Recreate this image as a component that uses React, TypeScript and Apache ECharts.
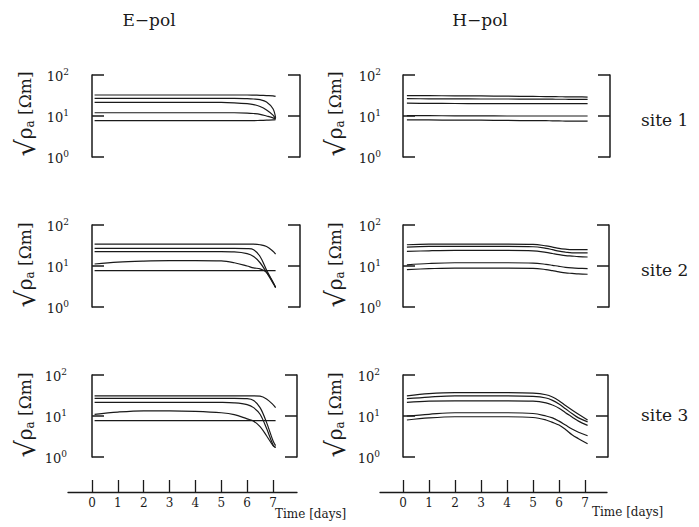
import React, { useEffect, useRef } from "react";
import * as echarts from "echarts";

// Time samples (days)
const E_DAYS = [0.1, 1, 2, 3, 4, 5, 5.5, 6, 6.25, 6.5, 6.75, 7, 7.1];
const H_DAYS = [0.15, 1, 2, 3, 4, 5, 5.5, 5.75, 6, 6.25, 6.5, 6.75, 7.1];
const TIME_TICKS = [0, 1, 2, 3, 4, 5, 6, 7];
const DECADES = [1, 10, 100];
const SITES = ["site 1", "site 2", "site 3"];
const TITLES = ["E\u2212pol", "H\u2212pol"];
const Y_NAME = "{v|\u221A}{r|\u03C1}{a|a}{u| [\u03A9m]}";
const X_NAME = "Time [days]";

// E-pol apparent resistivity curves (5 per site)
const E_SITE1 = [
  [32.5, 32.5, 32.5, 32.5, 32.5, 32.5, 32.5, 32.5, 32.3, 32, 31.5, 31, 30],
  [27, 27, 27, 27, 27, 27, 27, 26.5, 26, 25, 22, 15, 9],
  [21.6, 21.6, 21.6, 21.6, 21.6, 21.5, 21, 20, 19, 17, 14, 10.5, 8.5],
  [12, 12, 12, 12, 12, 12, 12, 11.8, 11.5, 11, 10, 9, 8.4],
  [7.7, 7.7, 7.7, 7.7, 7.7, 7.7, 7.7, 7.7, 7.7, 7.8, 7.9, 8, 8.1],
];
const E_SITE2 = [
  [34, 34, 34, 34, 34, 34, 34, 34, 34, 33, 30, 23, 19.6],
  [27, 27, 27, 27, 27, 27, 27, 26.5, 25, 17, 8, 4, 3],
  [22.3, 22.3, 22.3, 22.3, 22.3, 22.3, 22, 20, 17, 12, 7, 3.8, 3],
  [11.2, 12.5, 13.2, 13.5, 13.5, 13.3, 12, 10, 9, 8.5, 7, 4, 3],
  [7.7, 7.7, 7.7, 7.7, 7.7, 7.7, 7.7, 7.7, 7.7, 7.7, 7.7, 7.7, 7.7],
];
const E_SITE3 = [
  [31, 31, 31, 31, 31, 31, 31, 31, 31, 30.5, 26, 19, 16],
  [27, 27, 27, 27, 27, 27, 27, 26.5, 24, 16, 7, 2.5, 1.9],
  [21.6, 21.6, 21.6, 21.6, 21.6, 21.5, 21, 19, 16, 11, 5, 2, 1.7],
  [11, 12.5, 13.4, 13.4, 13, 12, 10.8, 8.5, 7.5, 5.5, 3.3, 1.9, 1.7],
  [7.7, 7.7, 7.7, 7.7, 7.7, 7.7, 7.7, 7.7, 7.7, 7.7, 7.7, 7.7, 7.7],
];

// H-pol apparent resistivity curves (5 per site)
const H_SITE1 = [
  [31.5, 31.3, 31, 30.8, 30.5, 30, 29.8, 29.7, 29.5, 29.4, 29.3, 29.2, 29],
  [26.5, 26.3, 26.2, 26, 26, 25.8, 25.7, 25.7, 25.6, 25.6, 25.5, 25.5, 25.5],
  [20.5, 20.3, 20.2, 20, 20, 20, 20, 20, 20, 20, 20, 20, 20],
  [10.2, 10.2, 10.1, 10.1, 10, 10, 10, 10, 10, 10, 10, 10, 10],
  [8, 8, 7.9, 7.9, 7.8, 7.7, 7.7, 7.6, 7.6, 7.5, 7.5, 7.5, 7.5],
];
const H_SITE2 = [
  [33, 34, 34, 34, 34, 33.5, 31, 29, 27, 25.8, 25, 25, 25],
  [29, 30, 30, 30, 30, 29.5, 27, 25, 23, 21.8, 21, 21, 21],
  [22.7, 23.5, 24, 24, 24, 23.5, 21.5, 20.2, 19, 18, 17.5, 17, 16.6],
  [10.7, 11.5, 12, 12, 12, 11.8, 11, 10.4, 9.8, 9.3, 9, 8.8, 8.6],
  [8.2, 8.6, 8.9, 8.9, 8.9, 8.8, 8.2, 7.7, 7.2, 6.8, 6.6, 6.4, 6.3],
];
const H_SITE3 = [
  [31, 35, 37, 37, 37, 36, 33, 29, 23.5, 18, 14, 11, 8],
  [26.5, 29, 31, 31, 31, 30, 27.5, 24, 19.5, 15, 11.5, 9, 7.2],
  [21.5, 23, 23.5, 23.5, 23.5, 23, 21, 18.5, 15.5, 12, 9.5, 7.5, 5.9],
  [10, 11, 12, 12, 12, 11.5, 10, 9, 7.5, 6, 4.8, 4, 3.3],
  [8, 9, 9.6, 9.6, 9.6, 9.2, 8, 7, 6, 4.7, 3.5, 2.8, 2.1],
];

const E_DATA = [E_SITE1, E_SITE2, E_SITE3];
const H_DATA = [H_SITE1, H_SITE2, H_SITE3];

const SERIF = "DejaVu Serif";
const INK = "#1a1a1a";

export default function App() {
  const ref = useRef<HTMLDivElement>(null);

  useEffect(() => {
    if (!ref.current) return;
    const chart = echarts.init(ref.current, null, { renderer: "svg" });

    const rowTops = [75, 225, 375];
    const panelH = 82;
    const eBounds = [
      [71, 300],
      [71, 300],
      [69, 297],
    ];
    const hBounds = [
      [383, 610],
      [383, 609],
      [382, 608],
    ];
    const eMap = { x0: 92, ppd: (273 - 92) / 7 };
    const hMap = { x0: 403, ppd: (585 - 403) / 7 };

    const grids: any[] = [];
    const xAxes: any[] = [];
    const yAxes: any[] = [];
    const series: any[] = [];
    const graphics: any[] = [];

    const labelFmt = (v: number) => `{b|10}{s|${Math.round(Math.log10(v))}}`;
    const labelRich = {
      b: { fontSize: 13, fontFamily: SERIF, color: INK, lineHeight: 16, verticalAlign: "bottom" },
      s: { fontSize: 9, fontFamily: SERIF, color: INK, lineHeight: 16, verticalAlign: "top", padding: [0, 0, 6, 0] },
    };

    const addPanel = (
      row: number,
      bounds: number[],
      map: { x0: number; ppd: number },
      days: number[],
      data: number[][]
    ) => {
      const gi = grids.length;
      const [l, r] = bounds;
      grids.push({ left: l, top: rowTops[row], width: r - l, height: panelH });
      xAxes.push({
        type: "value",
        gridIndex: gi,
        min: (l - map.x0) / map.ppd,
        max: (r - map.x0) / map.ppd,
        show: false,
      });
      const yi = yAxes.length;
      yAxes.push({
        type: "log",
        gridIndex: gi,
        position: "left",
        min: 1,
        max: 100,
        logBase: 10,
        axisLine: { show: true, lineStyle: { color: INK, width: 1.5 } },
        axisTick: { show: true, inside: true, length: 12, customValues: DECADES, lineStyle: { color: INK, width: 1.5 } },
        axisLabel: { show: true, customValues: DECADES, margin: 2, formatter: labelFmt, rich: labelRich },
        splitLine: { show: false },
        minorTick: { show: false },
      });
      yAxes.push({
        type: "log",
        gridIndex: gi,
        position: "right",
        min: 1,
        max: 100,
        logBase: 10,
        axisLine: { show: true, lineStyle: { color: INK, width: 1.5 } },
        axisTick: { show: true, inside: true, length: 12, customValues: DECADES, lineStyle: { color: INK, width: 1.5 } },
        axisLabel: { show: false },
        splitLine: { show: false },
      });
      data.forEach((vals, k) => {
        series.push({
          type: "line",
          xAxisIndex: gi,
          yAxisIndex: yi,
          data: days.map((d, i) => [d, vals[i]]),
          showSymbol: false,
          smooth: 0.35,
          lineStyle: { color: INK, width: 1.2 },
          silent: true,
          z: 2,
          name: `p${gi}s${k}`,
        });
      });
    };

    for (let row = 0; row < 3; row++) {
      addPanel(row, eBounds[row], eMap, E_DAYS, E_DATA[row]);
      addPanel(row, hBounds[row], hMap, H_DAYS, H_DATA[row]);
    }

    const addTimeAxis = (l: number, r: number, map: { x0: number; ppd: number }) => {
      const gi = grids.length;
      grids.push({ left: l, top: 470, width: r - l, height: 22 });
      xAxes.push({
        type: "value",
        gridIndex: gi,
        min: (l - map.x0) / map.ppd,
        max: (r - map.x0) / map.ppd,
        position: "bottom",
        axisLine: { show: true, onZero: false, lineStyle: { color: INK, width: 1.3 } },
        axisTick: { show: true, inside: true, length: 12, customValues: TIME_TICKS, lineStyle: { color: INK, width: 1.3 } },
        axisLabel: {
          show: true,
          customValues: TIME_TICKS,
          margin: 5,
          fontSize: 12,
          fontFamily: SERIF,
          color: INK,
        },
        splitLine: { show: false },
      });
      yAxes.push({ type: "value", gridIndex: gi, show: false, min: 0, max: 1 });
    };
    addTimeAxis(68, 297, eMap);
    addTimeAxis(380, 607, hMap);

    graphics.push(
      { type: "text", x: 149, y: 20, style: { text: TITLES[0], font: `17px "${SERIF}"`, fill: INK, textAlign: "center", textVerticalAlign: "middle" } },
      { type: "text", x: 480, y: 20, style: { text: TITLES[1], font: `17px "${SERIF}"`, fill: INK, textAlign: "center", textVerticalAlign: "middle" } }
    );
    const nameRich = {
      v: { fontSize: 27, fontFamily: SERIF, fill: INK, lineHeight: 28, verticalAlign: "middle" },
      r: { fontSize: 20, fontFamily: SERIF, fill: INK, lineHeight: 28, verticalAlign: "middle" },
      a: { fontSize: 12, fontFamily: SERIF, fill: INK, lineHeight: 28, verticalAlign: "bottom", padding: [0, 0, 3, 0] },
      u: { fontSize: 17, fontFamily: SERIF, fill: INK, lineHeight: 28, verticalAlign: "middle" },
    };
    const nameYs = [114, 265, 415];
    const siteYs = [120, 270, 415];
    for (let row = 0; row < 3; row++) {
      [25, 335].forEach((x) => {
        graphics.push({
          type: "text",
          x,
          y: nameYs[row],
          rotation: Math.PI / 2,
          style: { text: Y_NAME, rich: nameRich, fill: INK, align: "center", verticalAlign: "middle" },
        });
      });
      graphics.push({
        type: "text",
        x: 641,
        y: siteYs[row],
        style: { text: SITES[row], font: `17px "${SERIF}"`, fill: INK, textAlign: "left", textVerticalAlign: "middle" },
      });
    }
    graphics.push(
      { type: "text", x: 275, y: 514, style: { text: X_NAME, font: `12px "${SERIF}"`, fill: INK, textAlign: "left", textVerticalAlign: "middle" } },
      { type: "text", x: 592, y: 512, style: { text: X_NAME, font: `12px "${SERIF}"`, fill: INK, textAlign: "left", textVerticalAlign: "middle" } }
    );

    chart.setOption({
      animation: false,
      backgroundColor: "#ffffff",
      grid: grids,
      xAxis: xAxes,
      yAxis: yAxes,
      series,
      graphic: graphics,
    });

    return () => chart.dispose();
  }, []);

  return (
    <div
      ref={ref}
      style={{ position: "fixed", left: 0, top: 0, width: 699, height: 527, background: "#fff" }}
    />
  );
}
